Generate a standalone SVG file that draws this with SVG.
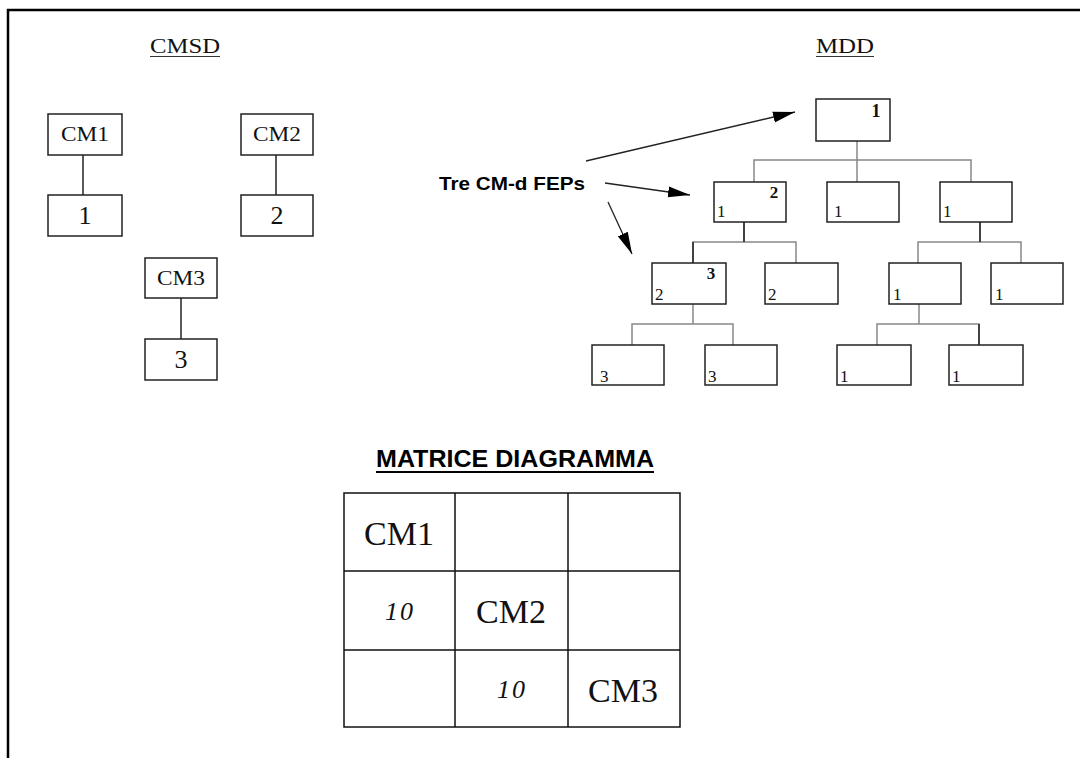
<svg xmlns="http://www.w3.org/2000/svg" width="1080" height="758" viewBox="0 0 1080 758">
<defs>
<marker id="ah" markerUnits="userSpaceOnUse" markerWidth="24" markerHeight="12" refX="22" refY="6" orient="auto">
<path d="M0,0.5 L22,6 L0,11.5 Z" fill="#000"/>
</marker>
<style>
.box{fill:#fff;stroke:#222;stroke-width:1.5}
.ln{stroke:#222;stroke-width:1.5;fill:none}
.gl{stroke:#888;stroke-width:1.5;fill:none}
.ser{font-family:"Liberation Serif","Times New Roman",serif;fill:#111}
.sans{font-family:"Liberation Sans",Arial,sans-serif;fill:#000;font-weight:bold}
.arr{stroke:#222;stroke-width:1.3;fill:none;marker-end:url(#ah)}
.cell{fill:none;stroke:#111;stroke-width:1.5}
</style>
</defs>
<rect width="1080" height="758" fill="#fff"/>
<path d="M8,758 V10 H1080" stroke="#000" stroke-width="2.5" fill="none"/>

<!-- Titles -->
<g id="title-cmsd">
<text class="ser" x="185" y="53" font-size="20" text-anchor="middle" textLength="70" lengthAdjust="spacingAndGlyphs">CMSD</text>
<line x1="150" y1="56.5" x2="220" y2="56.5" stroke="#333" stroke-width="1.2"/>
</g>
<g id="title-mdd">
<text class="ser" x="845" y="53" font-size="20" text-anchor="middle" textLength="58" lengthAdjust="spacingAndGlyphs">MDD</text>
<line x1="816" y1="56.5" x2="874" y2="56.5" stroke="#333" stroke-width="1.2"/>
</g>

<!-- CMSD -->
<g id="cmsd-links">
<line class="ln" x1="83" y1="155" x2="83" y2="195"/>
<line class="ln" x1="276" y1="155" x2="276" y2="195"/>
<line class="ln" x1="181" y1="298" x2="181" y2="339"/>
</g>
<g id="cm1"><rect class="box" x="48" y="114" width="74" height="41"/><text class="ser" x="85" y="141" font-size="20" text-anchor="middle" textLength="48" lengthAdjust="spacingAndGlyphs">CM1</text></g>
<g id="cm1-1"><rect class="box" x="48" y="195" width="74" height="41"/><text class="ser" x="85" y="224" font-size="26" text-anchor="middle">1</text></g>
<g id="cm2"><rect class="box" x="241" y="114" width="72" height="41"/><text class="ser" x="277" y="141" font-size="20" text-anchor="middle" textLength="48" lengthAdjust="spacingAndGlyphs">CM2</text></g>
<g id="cm2-2"><rect class="box" x="241" y="195" width="72" height="41"/><text class="ser" x="277" y="224" font-size="26" text-anchor="middle">2</text></g>
<g id="cm3"><rect class="box" x="145" y="258" width="72" height="40"/><text class="ser" x="181" y="285" font-size="20" text-anchor="middle" textLength="48" lengthAdjust="spacingAndGlyphs">CM3</text></g>
<g id="cm3-3"><rect class="box" x="145" y="339" width="72" height="41"/><text class="ser" x="181" y="368" font-size="26" text-anchor="middle">3</text></g>

<!-- MDD connectors -->
<g id="mdd-connectors">
<path class="gl" d="M857,141 V182 M754,182 V160 H971 V182"/>
<path class="gl" d="M744,222 V242 M693,263 V242 H796 V263"/>
<path class="gl" d="M980,222 V242 M918,263 V242 H1021 V263"/>
<path class="gl" d="M693,304 V324 M632,345 V324 H733 V345"/>
<path class="gl" d="M919,304 V324 M877,345 V324 H979 V345"/>
<line class="ln" x1="744" y1="222" x2="744" y2="242"/>
<line class="ln" x1="980" y1="222" x2="980" y2="242"/>
<line class="ln" x1="693" y1="242" x2="693" y2="263"/>
<line class="ln" x1="979" y1="324" x2="979" y2="345"/>
</g>

<!-- MDD nodes -->
<g id="mdd-root"><rect class="box" x="816" y="99" width="74" height="42"/><text class="ser" x="876" y="117" font-size="18" font-weight="bold" text-anchor="middle">1</text></g>
<g id="mdd-a"><rect class="box" x="714" y="182" width="72" height="40"/><text class="ser" x="774" y="198" font-size="17" font-weight="bold" text-anchor="middle">2</text><text class="ser" x="717" y="217" font-size="17">1</text></g>
<g id="mdd-b"><rect class="box" x="827" y="182" width="72" height="40"/><text class="ser" x="834" y="217" font-size="17">1</text></g>
<g id="mdd-c"><rect class="box" x="940" y="182" width="72" height="40"/><text class="ser" x="943" y="217" font-size="17">1</text></g>
<g id="mdd-d"><rect class="box" x="652" y="263" width="74" height="41"/><text class="ser" x="711" y="279" font-size="17" font-weight="bold" text-anchor="middle">3</text><text class="ser" x="655" y="300" font-size="17">2</text></g>
<g id="mdd-e"><rect class="box" x="765" y="263" width="73" height="41"/><text class="ser" x="768" y="300" font-size="17">2</text></g>
<g id="mdd-f"><rect class="box" x="889" y="263" width="72" height="41"/><text class="ser" x="893" y="300" font-size="17">1</text></g>
<g id="mdd-g"><rect class="box" x="991" y="263" width="72" height="41"/><text class="ser" x="995" y="300" font-size="17">1</text></g>
<g id="mdd-h"><rect class="box" x="592" y="345" width="72" height="40"/><text class="ser" x="600" y="382" font-size="17">3</text></g>
<g id="mdd-i"><rect class="box" x="705" y="345" width="72" height="40"/><text class="ser" x="708" y="382" font-size="17">3</text></g>
<g id="mdd-j"><rect class="box" x="837" y="345" width="74" height="40"/><text class="ser" x="840" y="382" font-size="17">1</text></g>
<g id="mdd-k"><rect class="box" x="949" y="345" width="74" height="40"/><text class="ser" x="952" y="382" font-size="17">1</text></g>

<!-- Annotation -->
<g id="label-fep">
<text class="sans" x="439" y="190" font-size="18" textLength="146" lengthAdjust="spacingAndGlyphs">Tre CM-d FEPs</text>
</g>
<g id="arrows">
<line class="arr" x1="586" y1="161" x2="795" y2="112"/>
<line class="arr" x1="605" y1="183" x2="690" y2="195"/>
<line class="arr" x1="608" y1="202" x2="632" y2="254"/>
</g>

<!-- Matrix -->
<g id="matrix-title">
<text class="sans" x="376" y="467" font-size="24" textLength="278" lengthAdjust="spacingAndGlyphs">MATRICE DIAGRAMMA</text>
<line x1="376" y1="472" x2="654" y2="472" stroke="#000" stroke-width="2"/>
</g>
<g id="matrix">
<rect class="cell" x="344" y="493" width="336" height="234"/>
<path class="cell" d="M455,493 V727 M568,493 V727 M344,571 H680 M344,650 H680"/>
<text class="ser" x="399" y="545" font-size="34" text-anchor="middle">CM1</text>
<text class="ser" x="511" y="623" font-size="34" text-anchor="middle">CM2</text>
<text class="ser" x="623" y="702" font-size="34" text-anchor="middle">CM3</text>
<text class="ser" x="400" y="620" font-size="26" font-style="italic" text-anchor="middle" letter-spacing="2">10</text>
<text class="ser" x="512" y="698" font-size="26" font-style="italic" text-anchor="middle" letter-spacing="2">10</text>
</g>
</svg>
